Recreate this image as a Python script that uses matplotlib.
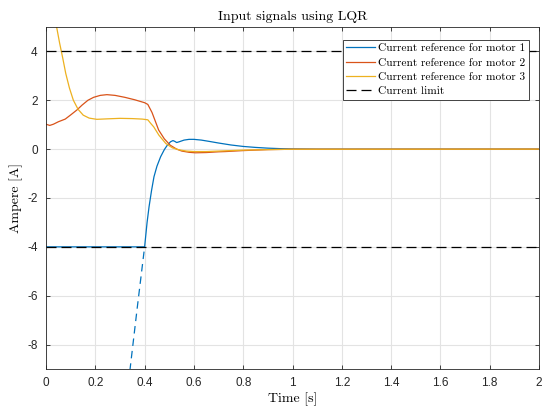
import matplotlib
matplotlib.use("Agg")
import matplotlib.pyplot as plt

# Controller outputs (time [s], current reference [A])
t_m1 = [0, 0.40, 0.41, 0.418, 0.428, 0.438, 0.45, 0.465, 0.48, 0.492, 0.505, 0.515,
        0.522, 0.53, 0.54, 0.56, 0.58, 0.60, 0.63, 0.66, 0.70, 0.75, 0.80, 0.85,
        0.90, 0.95, 1.0, 1.1, 2.0]
i_m1 = [-4, -4, -3.0, -2.36, -1.7, -1.13, -0.7, -0.31, -0.02, 0.16, 0.30, 0.35,
        0.32, 0.27, 0.30, 0.37, 0.40, 0.40, 0.37, 0.32, 0.25, 0.17, 0.11, 0.07,
        0.04, 0.02, 0.01, 0.0, 0.0]

t_m1_raw = [0.30, 0.341, 0.37, 0.40]
i_m1_raw = [-12.5, -9.0, -6.5, -4.0]

t_m2 = [0, 0.015, 0.03, 0.05, 0.078, 0.10, 0.125, 0.146, 0.17, 0.193, 0.22, 0.247,
        0.28, 0.32, 0.36, 0.40, 0.413, 0.43, 0.445, 0.457, 0.48, 0.504, 0.53,
        0.551, 0.58, 0.606, 0.65, 0.70, 0.727, 0.80, 0.85, 0.90, 1.0, 2.0]
i_m2 = [1.02, 0.97, 1.02, 1.12, 1.23, 1.40, 1.60, 1.80, 2.0, 2.12, 2.20, 2.23,
        2.20, 2.12, 2.02, 1.90, 1.83, 1.50, 1.10, 0.78, 0.42, 0.16, 0.0,
        -0.08, -0.13, -0.15, -0.14, -0.11, -0.10, -0.06, -0.04, -0.02, -0.005, 0.0]

t_m3 = [0, 0.02, 0.043, 0.055, 0.068, 0.08, 0.095, 0.111, 0.13, 0.151, 0.175, 0.206,
        0.25, 0.30, 0.35, 0.39, 0.413, 0.425, 0.437, 0.458, 0.486, 0.513, 0.54,
        0.57, 0.60, 0.65, 0.70, 0.75, 0.80, 0.90, 1.0, 2.0]
i_m3 = [7.6, 6.3, 5.0, 4.35, 3.72, 3.1, 2.5, 2.0, 1.63, 1.39, 1.27, 1.22,
        1.24, 1.26, 1.25, 1.23, 1.20, 1.05, 0.91, 0.57, 0.23, 0.05, -0.03,
        -0.08, -0.10, -0.10, -0.08, -0.06, -0.04, -0.02, -0.005, 0.0]

limit = 4.0
x_ticks = [0, 0.2, 0.4, 0.6, 0.8, 1, 1.2, 1.4, 1.6, 1.8, 2]
x_tick_labels = ["0", "0.2", "0.4", "0.6", "0.8", "1", "1.2", "1.4", "1.6", "1.8", "2"]
y_ticks = [-8, -6, -4, -2, 0, 2, 4]
y_tick_labels = ["-8", "-6", "-4", "-2", "0", "2", "4"]

BLUE = "#0072BD"
ORANGE = "#D95319"
YELLOW = "#EDB120"
SERIF = ["cmr10", "DejaVu Serif"]

plt.rcParams["axes.formatter.use_mathtext"] = True

fig = plt.figure(figsize=(5.42, 4.07), dpi=100)
ax = fig.add_axes([0.0849, 0.0934, 0.9096, 0.8403])

lw = 0.9
dash = (0, (8, 4))
ax.plot(t_m1, i_m1, color=BLUE, lw=lw, label="Current reference for motor 1")
ax.plot(t_m1_raw, i_m1_raw, color=BLUE, lw=lw, ls=(0, (6, 4)))
ax.plot(t_m2, i_m2, color=ORANGE, lw=lw, label="Current reference for motor 2")
ax.plot(t_m3, i_m3, color=YELLOW, lw=lw, label="Current reference for motor 3")
ax.plot([0, 2], [limit, limit], color="black", lw=lw, ls=dash,
        label="Current limit")
ax.plot([0, 2], [-limit, -limit], color="black", lw=lw, ls=dash)

ax.set_xlim(0, 2)
ax.set_ylim(-9, 5)
ax.set_xticks(x_ticks)
ax.set_xticklabels(x_tick_labels)
ax.set_yticks(y_ticks)
ax.set_yticklabels(y_tick_labels)

ax.grid(True, color="#e3e3e3", lw=0.8)
ax.set_axisbelow(True)
for s in ax.spines.values():
    s.set_linewidth(0.6)
    s.set_color("#262626")
ax.tick_params(direction="in", top=True, right=True, length=3, width=0.6,
               labelsize=8.5, colors="#262626", pad=6)
for lab in ax.get_xticklabels() + ax.get_yticklabels():
    lab.set_fontfamily(["Liberation Sans", "DejaVu Sans"])

ax.set_title("Input signals using LQR", fontfamily=SERIF, fontsize=10, pad=5)
ax.set_xlabel("Time [s]", fontfamily=SERIF, fontsize=10, labelpad=2)
ax.set_ylabel("Ampere [A]", fontfamily=SERIF, fontsize=10, labelpad=3)

leg = ax.legend(loc="upper right", bbox_to_anchor=(0.9797, 0.962),
                prop={"family": SERIF, "size": 8.2},
                fancybox=False, framealpha=1, edgecolor="#262626",
                borderpad=0.3, labelspacing=0.38, handlelength=2.5,
                handletextpad=0.3, borderaxespad=0.0)
leg.get_frame().set_linewidth(0.6)

fig.savefig("out.png", dpi=100)
